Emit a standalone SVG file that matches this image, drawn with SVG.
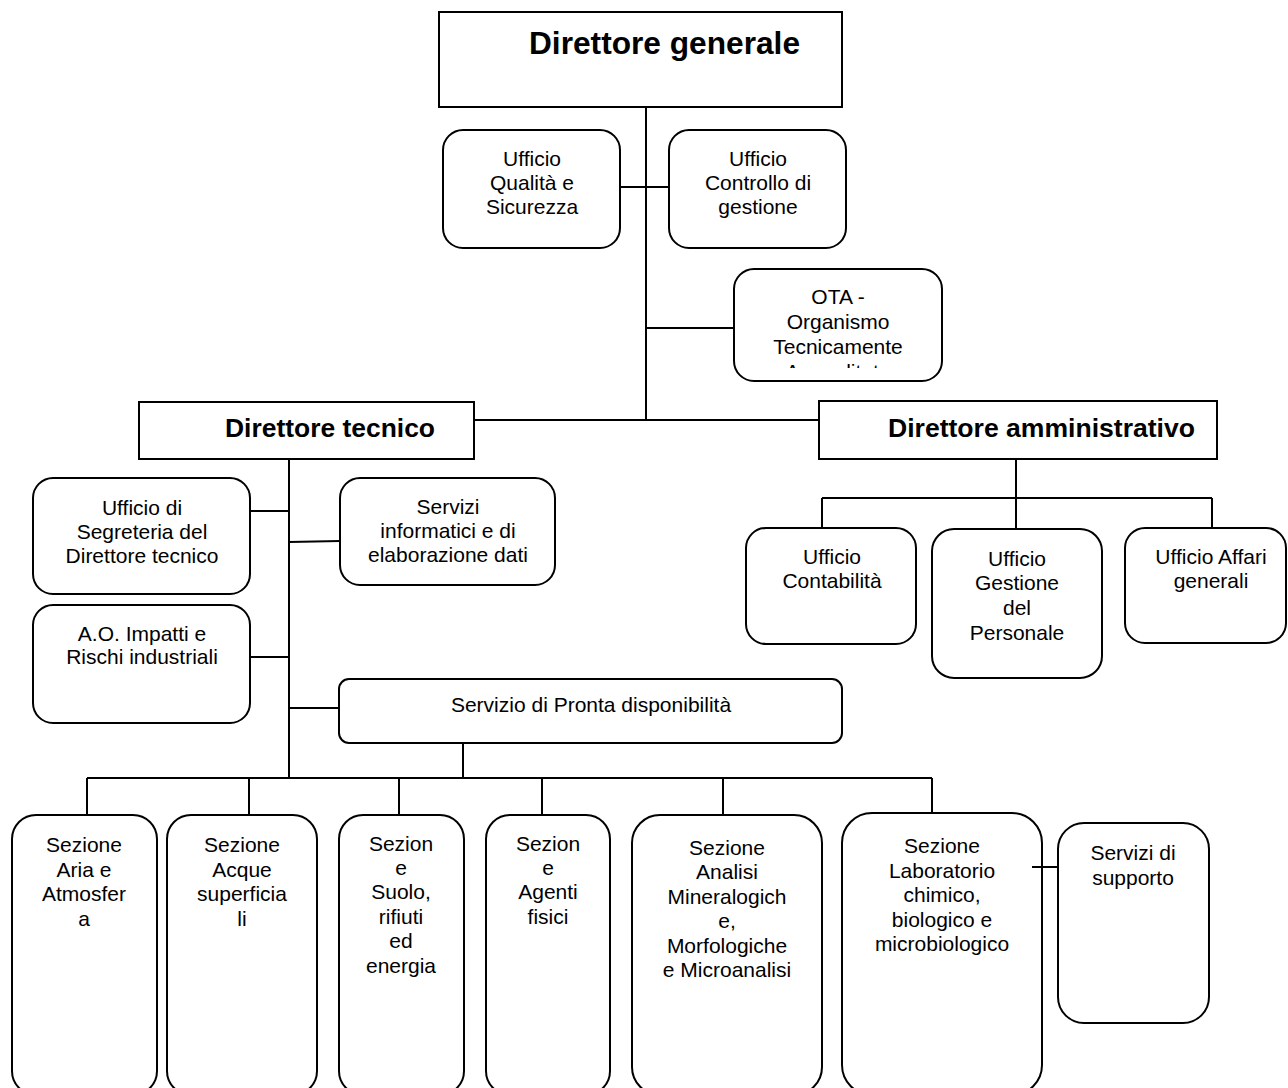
<svg xmlns="http://www.w3.org/2000/svg" width="1288" height="1088" viewBox="0 0 1288 1088">
<style>
.box{fill:#fff;stroke:#000;stroke-width:2}
.ln{fill:none;stroke:#000;stroke-width:2}
text{font-family:"Liberation Sans",Arial,sans-serif;fill:#000}
.t{font-size:21px;text-anchor:middle}
.tb{font-weight:bold}
</style>
<defs>
<clipPath id="otaClip"><rect x="734" y="269" width="208" height="99"/></clipPath>
</defs>
<rect width="1288" height="1088" fill="#fff"/>
<g id="connectors">
<path class="ln" d="M646 107V420M620 187H669M646 328H734M474 420H820"/>
<path class="ln" d="M289 459V778M250 511H289M250 657H289M289 542L340 541M289 708H339M463 743V778M87 778H932"/>
<path class="ln" d="M87 778V815M249 778V815M399 778V815M542 778V815M723 778V815M932 778V813"/>
<path class="ln" d="M1016 459V498M822 498H1212M822 498V528M1016 498V529M1212 498V528"/>
</g>
<g id="n-dg">
<rect class="box" x="439" y="12" width="403" height="95"/>
<text class="tb" x="529" y="54" font-size="32" textLength="271" lengthAdjust="spacingAndGlyphs">Direttore generale</text>
</g>
<g id="n-qualita">
<rect class="box" x="443" y="130" width="177" height="118" rx="20"/>
<text class="t" x="532" y="166">Ufficio</text>
<text class="t" x="532" y="190">Qualità e</text>
<text class="t" x="532" y="214">Sicurezza</text>
</g>
<g id="n-controllo">
<rect class="box" x="669" y="130" width="177" height="118" rx="20"/>
<text class="t" x="758" y="166">Ufficio</text>
<text class="t" x="758" y="190">Controllo di</text>
<text class="t" x="758" y="214">gestione</text>
</g>
<g id="n-ota">
<rect class="box" x="734" y="269" width="208" height="112" rx="20"/>
<g clip-path="url(#otaClip)">
<text class="t" x="838" y="304">OTA -</text>
<text class="t" x="838" y="329">Organismo</text>
<text class="t" x="838" y="354">Tecnicamente</text>
<text class="t" x="838" y="379">Accreditato</text>
</g>
</g>
<g id="n-dt">
<rect class="box" x="139" y="402" width="335" height="57"/>
<text class="tb" x="225" y="437" font-size="26.7" textLength="210" lengthAdjust="spacingAndGlyphs">Direttore tecnico</text>
</g>
<g id="n-da">
<rect class="box" x="819" y="401" width="398" height="58"/>
<text class="tb" x="888" y="437" font-size="26.7" textLength="307" lengthAdjust="spacingAndGlyphs">Direttore amministrativo</text>
</g>
<g id="n-segreteria">
<rect class="box" x="33" y="478" width="217" height="116" rx="20"/>
<text class="t" x="142" y="515">Ufficio di</text>
<text class="t" x="142" y="539">Segreteria del</text>
<text class="t" x="142" y="563">Direttore tecnico</text>
</g>
<g id="n-servizi-inf">
<rect class="box" x="340" y="478" width="215" height="107" rx="20"/>
<text class="t" x="448" y="514">Servizi</text>
<text class="t" x="448" y="538">informatici e di</text>
<text class="t" x="448" y="562">elaborazione dati</text>
</g>
<g id="n-ao">
<rect class="box" x="33" y="605" width="217" height="118" rx="20"/>
<text class="t" x="142" y="641">A.O. Impatti e</text>
<text class="t" x="142" y="664">Rischi industriali</text>
</g>
<g id="n-pronta">
<rect class="box" x="339" y="679" width="503" height="64" rx="10"/>
<text class="t" x="591" y="712">Servizio di Pronta disponibilità</text>
</g>
<g id="n-contabilita">
<rect class="box" x="746" y="528" width="170" height="116" rx="20"/>
<text class="t" x="832" y="564">Ufficio</text>
<text class="t" x="832" y="588">Contabilità</text>
</g>
<g id="n-personale">
<rect class="box" x="932" y="529" width="170" height="149" rx="22"/>
<text class="t" x="1017" y="566">Ufficio</text>
<text class="t" x="1017" y="590">Gestione</text>
<text class="t" x="1017" y="615">del</text>
<text class="t" x="1017" y="640">Personale</text>
</g>
<g id="n-affari">
<rect class="box" x="1125" y="528" width="161" height="115" rx="20"/>
<text class="t" x="1211" y="564">Ufficio Affari</text>
<text class="t" x="1211" y="588">generali</text>
</g>
<g id="n-aria">
<rect class="box" x="12" y="815" width="145" height="280" rx="24"/>
<text class="t" x="84" y="852">Sezione</text>
<text class="t" x="84" y="877">Aria e</text>
<text class="t" x="84" y="901">Atmosfer</text>
<text class="t" x="84" y="926">a</text>
</g>
<g id="n-acque">
<rect class="box" x="167" y="815" width="150" height="280" rx="24"/>
<text class="t" x="242" y="852">Sezione</text>
<text class="t" x="242" y="877">Acque</text>
<text class="t" x="242" y="901">superficia</text>
<text class="t" x="242" y="926">li</text>
</g>
<g id="n-suolo">
<rect class="box" x="339" y="815" width="125" height="280" rx="24"/>
<text class="t" x="401" y="851">Sezion</text>
<text class="t" x="401" y="875">e</text>
<text class="t" x="401" y="899">Suolo,</text>
<text class="t" x="401" y="924">rifiuti</text>
<text class="t" x="401" y="948">ed</text>
<text class="t" x="401" y="973">energia</text>
</g>
<g id="n-agenti">
<rect class="box" x="486" y="815" width="124" height="280" rx="24"/>
<text class="t" x="548" y="851">Sezion</text>
<text class="t" x="548" y="875">e</text>
<text class="t" x="548" y="899">Agenti</text>
<text class="t" x="548" y="924">fisici</text>
</g>
<g id="n-analisi">
<rect class="box" x="632" y="815" width="190" height="280" rx="28"/>
<text class="t" x="727" y="855">Sezione</text>
<text class="t" x="727" y="879">Analisi</text>
<text class="t" x="727" y="904">Mineralogich</text>
<text class="t" x="727" y="928">e,</text>
<text class="t" x="727" y="953">Morfologiche</text>
<text class="t" x="727" y="977">e Microanalisi</text>
</g>
<g id="n-lab">
<rect class="box" x="842" y="813" width="200" height="282" rx="30"/>
<text class="t" x="942" y="853">Sezione</text>
<text class="t" x="942" y="878">Laboratorio</text>
<text class="t" x="942" y="902">chimico,</text>
<text class="t" x="942" y="927">biologico e</text>
<text class="t" x="942" y="951">microbiologico</text>
</g>
<g id="n-supporto">
<rect class="box" x="1058" y="823" width="151" height="200" rx="26"/>
<text class="t" x="1133" y="860">Servizi di</text>
<text class="t" x="1133" y="885">supporto</text>
</g>
<g id="connector-overlay">
<path class="ln" d="M1032 867H1058"/>
</g>
</svg>
